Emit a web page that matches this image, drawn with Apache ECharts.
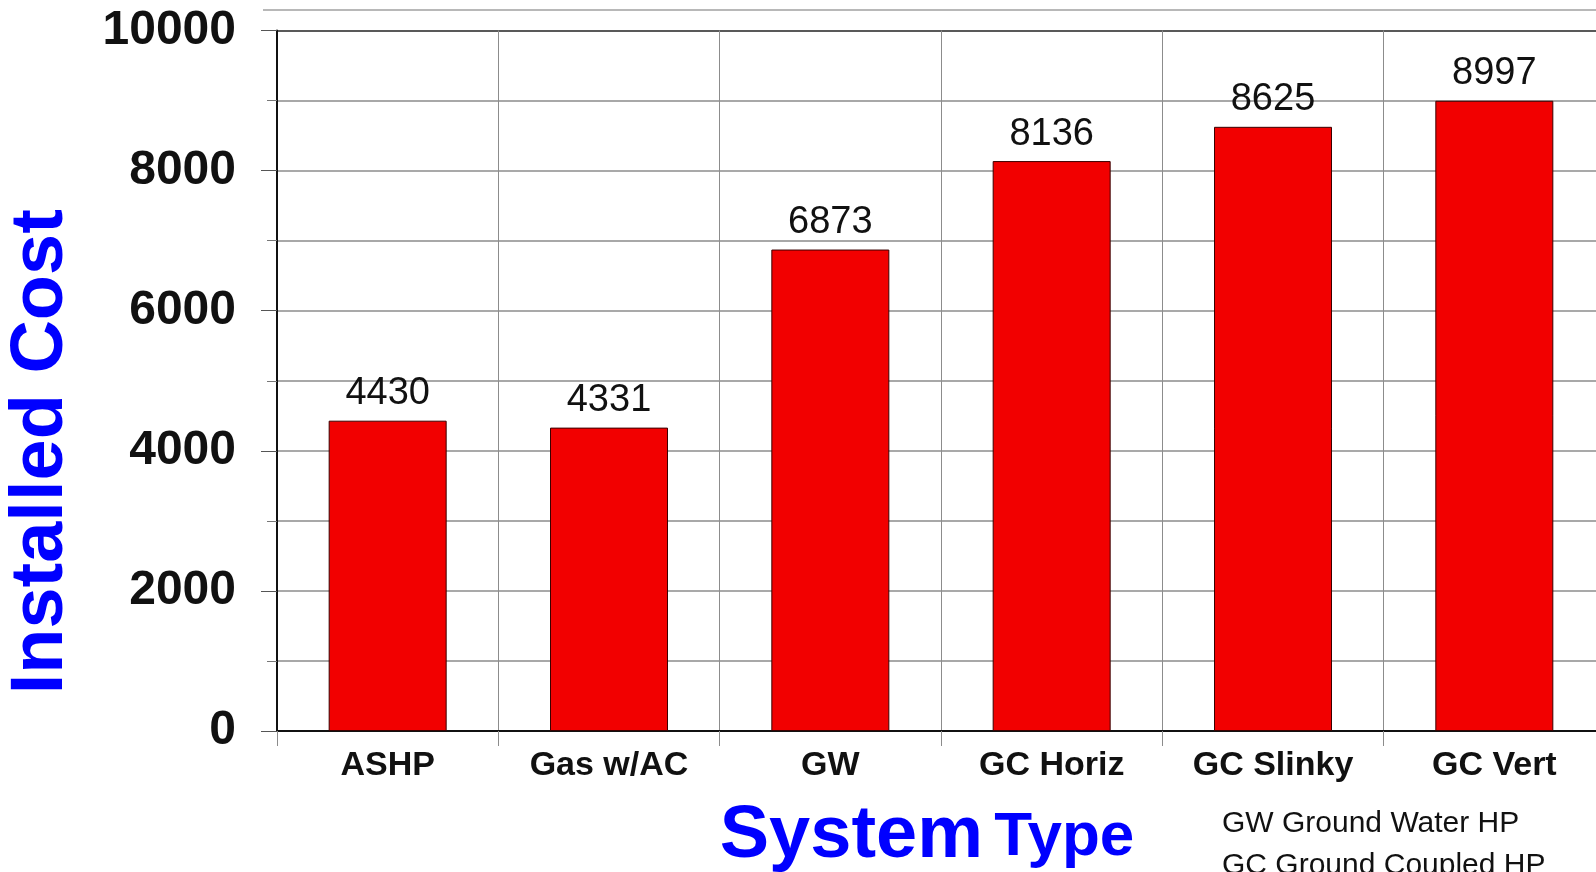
<!DOCTYPE html>
<html>
<head>
<meta charset="utf-8">
<script src="https://cdn.jsdelivr.net/npm/echarts@6/dist/echarts.min.js"></script>
<style>
  html, body { margin: 0; padding: 0; background: #ffffff; }
  #chart { width: 1596px; height: 872px; }
</style>
</head>
<body>
<div id="chart"></div>
<script>
// Installed cost by heating/cooling system type
const systemTypes = ['ASHP', 'Gas w/AC', 'GW', 'GC Horiz', 'GC Slinky', 'GC Vert'];
const installedCost = [4430, 4331, 6873, 8136, 8625, 8997];
const costTicks = [0, 2000, 4000, 6000, 8000, 10000];
const notes = ['GW Ground Water HP', 'GC Ground Coupled HP'];

const FONT = '"Liberation Sans", Arial, sans-serif';
const GRID_GRAY = '#8c8c8c';

const chart = echarts.init(document.getElementById('chart'), null, { renderer: 'canvas' });

chart.setOption({
  backgroundColor: '#ffffff',
  animation: false,
  grid: {
    left: 277, top: 30.5, right: -9, bottom: 141,
    containLabel: false, outerBoundsMode: 'none'
  },
  xAxis: {
    type: 'category',
    data: systemTypes,
    boundaryGap: true,
    axisLine: { show: true, lineStyle: { color: '#111111', width: 2 } },
    axisTick: { show: true, alignWithLabel: false, length: 15, lineStyle: { color: GRID_GRAY, width: 1 } },
    splitLine: { show: true, lineStyle: { color: GRID_GRAY, width: 1 } },
    axisLabel: {
      color: '#111111', fontFamily: FONT, fontWeight: 'bold', fontSize: 34, margin: 18
    },
    name: '{a|System}{s| }{b|Type}',
    nameLocation: 'middle',
    nameGap: 69,
    nameTextStyle: {
      padding: [0, 28, 0, 0],
      rich: {
        a: { color: '#0000ff', fontFamily: FONT, fontWeight: 'bold', fontSize: 74, lineHeight: 74, verticalAlign: 'bottom' },
        s: { color: '#0000ff', fontFamily: FONT, fontWeight: 'bold', fontSize: 40, lineHeight: 40, verticalAlign: 'bottom' },
        b: { color: '#0000ff', fontFamily: FONT, fontWeight: 'bold', fontSize: 62, lineHeight: 62, verticalAlign: 'bottom', padding: [0, 0, 5, 0] }
      }
    }
  },
  yAxis: {
    type: 'value',
    min: costTicks[0],
    max: costTicks[costTicks.length - 1],
    interval: costTicks[1] - costTicks[0],
    axisLine: { show: true, lineStyle: { color: '#111111', width: 2 } },
    axisTick: { show: true, length: 16, lineStyle: { color: '#555555', width: 1 } },
    minorTick: { show: true, splitNumber: 2, length: 10, lineStyle: { color: '#777777', width: 1 } },
    splitLine: {
      show: true,
      lineStyle: { color: [GRID_GRAY, GRID_GRAY, GRID_GRAY, GRID_GRAY, GRID_GRAY, '#222222'], width: 1.5 }
    },
    minorSplitLine: { show: true, lineStyle: { color: GRID_GRAY, width: 1.5 } },
    axisLabel: {
      color: '#111111', fontFamily: FONT, fontWeight: 'bold', fontSize: 48, margin: 41,
      formatter: (v) => String(v)
    },
    name: 'Installed Cost',
    nameLocation: 'middle',
    nameRotate: 90,
    nameGap: 198,
    nameTextStyle: {
      color: '#0000ff', fontFamily: FONT, fontWeight: 'bold', fontSize: 74,
      padding: [0, 142, 0, 0]
    }
  },
  series: [{
    type: 'bar',
    data: installedCost,
    barWidth: 118,
    itemStyle: { color: '#f20000', borderColor: '#3a0000', borderWidth: 1 },
    label: {
      show: true, position: 'top', distance: 8,
      color: '#111111', fontFamily: FONT, fontSize: 38
    }
  }],
  graphic: [
    {
      type: 'line', silent: true,
      shape: { x1: 263, y1: 10, x2: 1596, y2: 10 },
      style: { stroke: '#b8b8b8', lineWidth: 2 }
    },
    {
      type: 'text', silent: true, left: 1222, top: 809,
      style: { text: notes[0], fill: '#111111', font: '30px ' + FONT }
    },
    {
      type: 'text', silent: true, left: 1222, top: 851,
      style: { text: notes[1], fill: '#111111', font: '30px ' + FONT }
    }
  ]
});
</script>
</body>
</html>
